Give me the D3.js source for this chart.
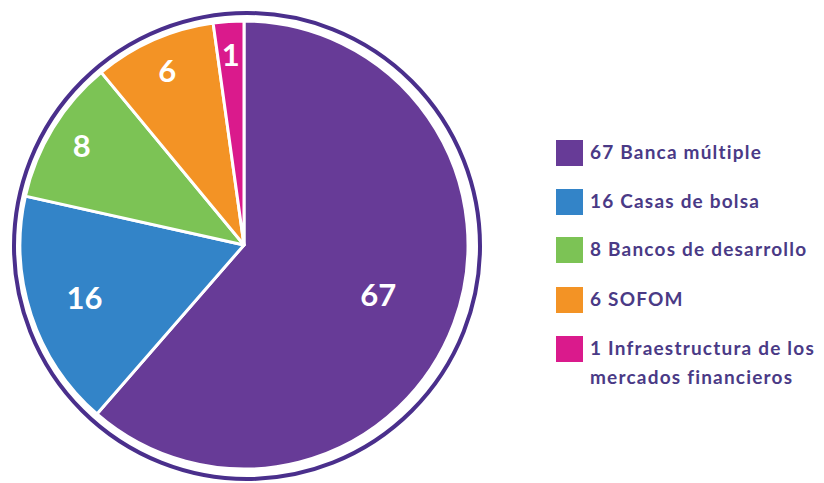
<!DOCTYPE html>
<html lang="es">
<head>
<meta charset="utf-8">
<title>Pie</title>
<script src="https://cdn.jsdelivr.net/npm/d3@7"></script>
<style>
	body { margin: 0; background: #fff; }
	svg text { font-family: Lato, "Open Sans", sans-serif; }
</style>
</head>
<body>
<div id="chart"></div>
<script>
	// counts shown as labels
	var values = [67, 16, 8, 6, 1];
	var names = ["Banca múltiple", "Casas de bolsa", "Bancos de desarrollo", "SOFOM", "Infraestructura de los mercados financieros"];
	// share of the circle each slice takes in the picture (%)
	var sliceShare = [61.4, 17.1, 10.5, 8.8, 2.2];
	var colors = ["#673b97", "#3384c8", "#7cc355", "#f39325", "#da1a8c"];

	var w = 824, h = 483;
	var cx = 244, cy = 245, R = 224;

	var svg = d3.select("#chart").append("svg")
		.attr("width", w)
		.attr("height", h);

	// outer ring
	svg.append("circle")
		.attr("cx", cx + 3)
		.attr("cy", cy + 1)
		.attr("r", 233)
		.attr("fill", "none")
		.attr("stroke", "#4a2f8c")
		.attr("stroke-width", 4);

	var pie = d3.pie().sort(null).value(function(d) { return d.share; });
	var arc = d3.arc().innerRadius(0).outerRadius(R);

	var rows = values.map(function(v, i) {
		return {n: v, name: names[i], share: sliceShare[i], color: colors[i]};
	});
	var arcs = pie(rows);

	var g = svg.append("g").attr("transform", "translate(" + cx + "," + cy + ")");

	g.selectAll("path")
		.data(arcs)
		.enter()
		.append("path")
		.attr("d", arc)
		.attr("fill", function(d) { return d.data.color; })
		.attr("stroke", "#fff")
		.attr("stroke-width", 3)
		.attr("stroke-linejoin", "round");

	// numbers inside slices
	g.selectAll("text.num")
		.data(arcs)
		.enter()
		.append("text")
		.attr("class", "num")
		.attr("transform", function(d) {
			var span = d.endAngle - d.startAngle;
			var k = span > 3 ? 0.64 : (span > 0.9 ? 0.75 : 0.85);
			var a = (d.startAngle + d.endAngle) / 2;
			return "translate(" + (Math.sin(a) * R * k) + "," + (-Math.cos(a) * R * k) + ")";
		})
		.attr("text-anchor", "middle")
		.attr("dy", "0.36em")
		.attr("fill", "#fff")
		.style("font-size", "31px")
		.style("font-weight", "bold")
		.text(function(d) { return d.data.n; });

	// legend
	var legY = [140, 189, 237, 287, 336];
	var leg = svg.selectAll("g.leg")
		.data(rows)
		.enter()
		.append("g")
		.attr("class", "leg")
		.attr("transform", function(d, i) { return "translate(556," + legY[i] + ")"; });

	leg.append("rect")
		.attr("width", 27)
		.attr("height", 26)
		.attr("fill", function(d) { return d.color; });

	leg.append("text")
		.attr("x", 34)
		.attr("y", 19)
		.attr("fill", "#4a3a86")
		.style("font-size", "19px")
		.style("font-weight", "bold")
		.style("letter-spacing", "1.2px")
		.each(function(d, i) {
			var t = d3.select(this);
			if (i == 4) {
				t.append("tspan").attr("x", 34).text(d.n + " Infraestructura de los");
				t.append("tspan").attr("x", 34).attr("dy", 29).text("mercados financieros");
			} else {
				t.text(d.n + " " + d.name);
			}
		});
</script>
</body>
</html>
